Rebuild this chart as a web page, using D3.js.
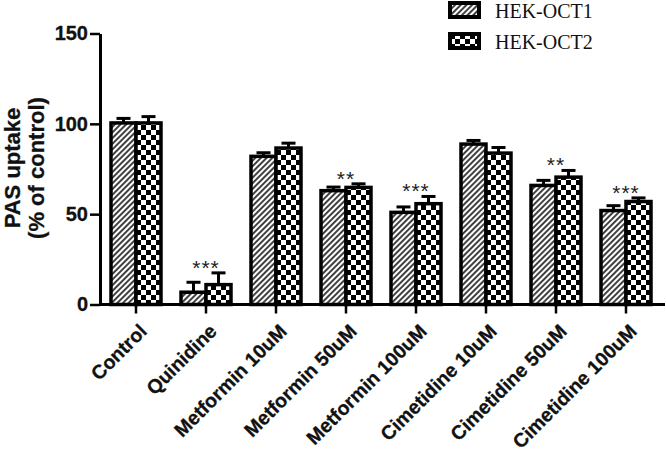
<!DOCTYPE html>
<html lang="en">
<head>
    <meta charset="UTF-8">
    <title>PAS uptake</title>
    <style>
        body { margin: 0; background: #fff; }
    </style>
</head>
<body>
    <div id="graph"></div>
    <script src="https://d3js.org/d3.v7.min.js"></script>
    <script>
        // data
        const categories = ["Control", "Quinidine", "Metformin 10uM", "Metformin 50uM", "Metformin 100uM",
                            "Cimetidine 10uM", "Cimetidine 50uM", "Cimetidine 100uM"];
        const oct1 = [100.5, 6.8, 82, 63, 51, 88.8, 65.9, 52];
        const oct1Err = [2.5, 5.5, 2, 2, 3, 2, 2.8, 2.7];
        const oct2 = [100.5, 11, 86.6, 64.8, 55.8, 83.8, 70.5, 57];
        const oct2Err = [3.5, 6.5, 2.7, 2, 4, 3.1, 3.7, 2];
        const stars = ["", "***", "", "**", "***", "", "**", "***"];
        const seriesNames = ["HEK-OCT1", "HEK-OCT2"];
        const yTicks = [0, 50, 100, 150];

        const W = 666, H = 455;
        const BAR_W = 25;
        const SANS = "'Liberation Sans', Arial, sans-serif";
        const SERIF = "'Liberation Serif', 'Times New Roman', serif";

        const svg = d3.select("#graph").append("svg")
            .attr("width", W).attr("height", H);

        const defs = svg.append("defs");
        // hatch ///
        const hatch = defs.append("pattern")
            .attr("id", "hatch")
            .attr("patternUnits", "userSpaceOnUse")
            .attr("width", 4).attr("height", 4)
            .attr("patternTransform", "rotate(45)");
        hatch.append("rect").attr("width", 4).attr("height", 4).attr("fill", "#fff");
        hatch.append("line").attr("x1", 1).attr("x2", 1).attr("y1", 0).attr("y2", 4)
            .attr("stroke", "#000").attr("stroke-width", 1.5);
        // checker
        const checker = defs.append("pattern")
            .attr("id", "checker")
            .attr("patternUnits", "userSpaceOnUse")
            .attr("width", 10).attr("height", 10);
        checker.append("rect").attr("width", 10).attr("height", 10).attr("fill", "#fff");
        checker.append("rect").attr("width", 5).attr("height", 5).attr("fill", "#000");
        checker.append("rect").attr("x", 5).attr("y", 5).attr("width", 5).attr("height", 5).attr("fill", "#000");

        const fills = ["url(#hatch)", "url(#checker)"];

        const x = d3.scaleBand().domain(categories).range([101, 661]);
        const y = d3.scaleLinear().domain([0, 150]).range([304.5, 33.5]);

        const rows = categories.map((c, i) => ({
            cat: c,
            bars: [
                { s: 0, v: oct1[i], e: oct1Err[i] },
                { s: 1, v: oct2[i], e: oct2Err[i] }
            ],
            star: stars[i]
        }));

        const groups = svg.selectAll("g.grp")
            .data(rows)
            .enter().append("g")
            .attr("class", "grp")
            .attr("transform", d => `translate(${x(d.cat) + x.bandwidth() / 2}, 0)`);

        const bar = groups.selectAll("g.bar")
            .data(d => d.bars)
            .enter().append("g")
            .attr("class", "bar");

        const left = d => d.s === 0 ? -BAR_W : 0;

        bar.append("rect")
            .attr("x", left)
            .attr("width", BAR_W)
            .attr("y", d => y(d.v))
            .attr("height", d => y(0) - y(d.v))
            .attr("fill", d => fills[d.s])
            .attr("stroke", "#000")
            .attr("stroke-width", 3.5);

        // error bars (upper only)
        bar.append("line")
            .attr("x1", d => left(d) + BAR_W / 2)
            .attr("x2", d => left(d) + BAR_W / 2)
            .attr("y1", d => y(d.v))
            .attr("y2", d => y(d.v + d.e))
            .attr("stroke", "#000").attr("stroke-width", 3);
        bar.append("line")
            .attr("x1", d => left(d) + BAR_W / 2 - 7)
            .attr("x2", d => left(d) + BAR_W / 2 + 7)
            .attr("y1", d => y(d.v + d.e))
            .attr("y2", d => y(d.v + d.e))
            .attr("stroke", "#000").attr("stroke-width", 3);

        groups.append("text")
            .attr("text-anchor", "middle")
            .attr("y", d => y(d3.max(d.bars, b => b.v + b.e)) + 2)
            .attr("font-family", SANS)
            .attr("font-size", 21)
            .attr("letter-spacing", 1)
            .attr("fill", "#222")
            .text(d => d.star);

        // y axis
        const yAxis = svg.append("g")
            .attr("transform", "translate(100, 0)")
            .call(d3.axisLeft(y).tickValues(yTicks).tickSize(10).tickSizeOuter(0).tickPadding(2));
        yAxis.select(".domain").attr("stroke-width", 3);
        yAxis.selectAll(".tick line").attr("stroke-width", 2.5);
        yAxis.selectAll(".tick text")
            .attr("font-size", 20)
            .attr("font-weight", "bold")
            .attr("fill", "#111")
            .attr("stroke", "#111").attr("stroke-width", 0.3)
            .attr("font-family", SANS);

        // x axis
        const xAxis = svg.append("g")
            .attr("transform", `translate(0, ${y(0)})`)
            .call(d3.axisBottom(x).tickSize(9).tickSizeOuter(0));
        xAxis.select(".domain").remove();
        xAxis.append("line")
            .attr("x1", 99).attr("x2", 665)
            .attr("stroke", "#000").attr("stroke-width", 3);
        xAxis.selectAll(".tick line").attr("stroke-width", 2.5);
        xAxis.selectAll(".tick text")
            .attr("x", 0).attr("y", 0).attr("dy", 0)
            .attr("text-anchor", "end")
            .attr("transform", "translate(12, 28) rotate(-45)")
            .attr("font-size", 19.5)
            .attr("font-weight", "bold")
            .attr("fill", "#111")
            .attr("stroke", "#111").attr("stroke-width", 0.3)
            .attr("font-family", SANS);

        // y label
        const yLab = svg.append("text")
            .attr("transform", "translate(20, 168) rotate(-90)")
            .attr("text-anchor", "middle")
            .attr("font-family", SANS)
            .attr("font-size", 22)
            .attr("font-weight", "bold")
            .attr("fill", "#111")
            .attr("stroke", "#111").attr("stroke-width", 0.3);
        yLab.append("tspan").attr("x", 0).attr("dy", 0).text("PAS uptake");
        yLab.append("tspan").attr("x", 0).attr("dy", 24).text("(% of control)");

        // legend
        const legend = svg.selectAll("g.leg")
            .data(seriesNames)
            .enter().append("g")
            .attr("class", "leg")
            .attr("transform", (d, i) => `translate(450, ${3 + i * 31})`);
        legend.append("rect")
            .attr("width", 29).attr("height", 14)
            .attr("fill", (d, i) => fills[i])
            .attr("stroke", "#000").attr("stroke-width", 4);
        legend.append("text")
            .attr("x", 45).attr("y", 14.5)
            .attr("font-family", SERIF)
            .attr("font-size", 20)
            .attr("fill", "#111")
            .text(d => d);
    </script>
</body>
</html>
